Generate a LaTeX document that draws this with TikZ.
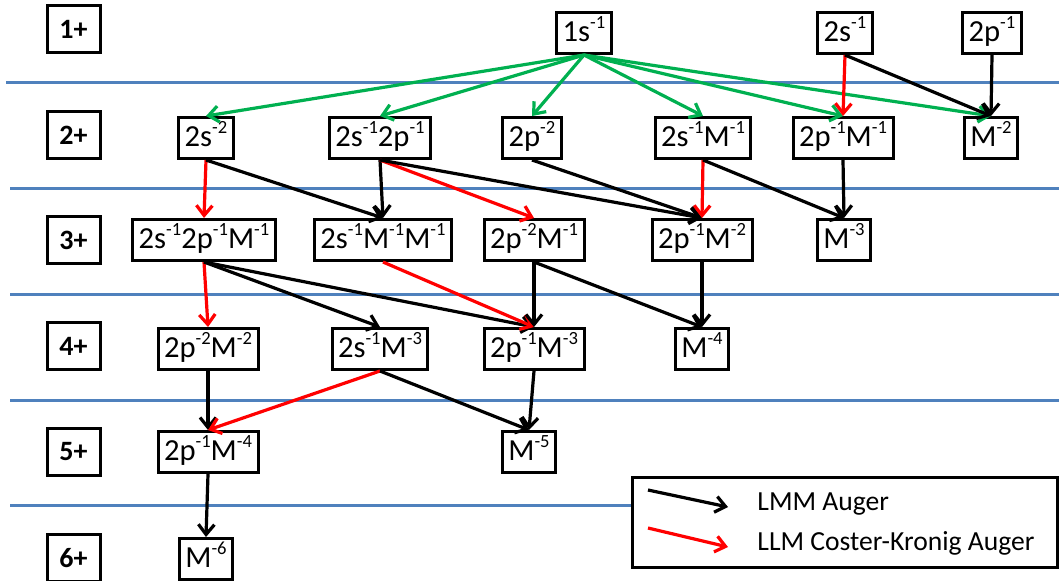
\documentclass[tikz,border=0pt]{standalone}
\usepackage{fontspec}
\setmainfont{Carlito}
\usetikzlibrary{arrows.meta}
\definecolor{kgreen}{RGB}{0,176,80}
\definecolor{shellblue}{RGB}{79,129,189}
\newcommand{\pw}[1]{\raisebox{0.42em}{\fontsize{9.3}{9}\selectfont #1}}
\tikzset{every picture/.style = {x=0.5pt, y=-0.5pt}}
\tikzset{cfg/.style = {draw, line width=1.5pt, inner xsep=3pt, inner ysep=2.5pt,
    text height=12pt, text depth=3.5pt, font=\fontsize{15.3}{18}\selectfont}}
\tikzset{lvl/.style = {draw, line width=1.5pt, minimum width=26.5pt,
    minimum height=23.5pt, font=\fontsize{14}{16}\selectfont\bfseries}}
\tikzset{auger/.style = {line width=1.6pt, -{Straight Barb[length=5pt, width=8pt]}}}
\tikzset{ck/.style = {auger, red}}
\tikzset{kll/.style = {auger, kgreen}}
\tikzset{shell/.style = {shellblue, line width=1.5pt}}

\begin{document}
\begin{tikzpicture}
  \useasboundingbox (0, 0) rectangle (1059, 580);
  % separators between charge states
  \draw[shell] (6, 82) -- (1059, 82);
  \foreach \y in {188, 294, 400}
    \draw[shell] (10, \y) -- (1059, \y);
  \draw[shell] (10, 505) -- (632, 505);

  % charge states
  \foreach \q/\y in {1/29, 2/135, 3/240, 4/346, 5/452, 6/558}
    \node(q\q)[lvl] at (73.5, \y) {\q+};

  % 1+
  \node(k1)[cfg] at (584, 33) {1s\pw{-1}};
  \node(l1)[cfg] at (845, 33) {2s\pw{-1}};
  \node(l2)[cfg] at (992, 33) {2p\pw{-1}};
  % 2+
  \node(a1)[cfg] at (206, 138) {2s\pw{-2}};
  \node(a2)[cfg] at (380, 138) {2s\pw{-1}2p\pw{-1}};
  \node(a3)[cfg] at (532, 138) {2p\pw{-2}};
  \node(a4)[cfg] at (703, 138) {2s\pw{-1}M\pw{-1}};
  \node(a5)[cfg] at (843, 138) {2p\pw{-1}M\pw{-1}};
  \node(a6)[cfg] at (991, 138) {M\pw{-2}};
  % 3+
  \node(b1)[cfg] at (204, 240) {2s\pw{-1}2p\pw{-1}M\pw{-1}};
  \node(b2)[cfg] at (383, 240) {2s\pw{-1}M\pw{-1}M\pw{-1}};
  \node(b3)[cfg] at (534, 240) {2p\pw{-2}M\pw{-1}};
  \node(b4)[cfg] at (702, 240) {2p\pw{-1}M\pw{-2}};
  \node(b5)[cfg] at (844, 240) {M\pw{-3}};
  % 4+
  \node(c1)[cfg] at (208, 349) {2p\pw{-2}M\pw{-2}};
  \node(c2)[cfg] at (380, 349) {2s\pw{-1}M\pw{-3}};
  \node(c3)[cfg] at (534, 349) {2p\pw{-1}M\pw{-3}};
  \node(c4)[cfg] at (702, 349) {M\pw{-4}};
  % 5+ and 6+
  \node(d1)[cfg] at (208, 452) {2p\pw{-1}M\pw{-4}};
  \node(d2)[cfg] at (529, 452) {M\pw{-5}};
  \node(e1)[cfg] at (206, 559) {M\pw{-6}};

  % K-shell decay
  \foreach \t in {a1, a2, a3, a4, a5, a6}
    \draw[kll] (k1.south) -- (\t.north);
  \draw[ck] (l1.south) -- (a5.north);
  \draw[auger] (l1.south) -- (a6.north);
  \draw[auger] (l2.south) -- (a6.north);

  % 2+ -> 3+
  \draw[ck] (a1.south) -- (b1.north);
  \draw[auger] (a1.south) -- (b2.north);
  \draw[auger] (a2.south) -- (b2.north);
  \draw[ck] (a2.south) -- (b3.north);
  \draw[auger] (a2.south) -- (b4.north);
  \draw[auger] (a3.south) -- (b4.north);
  \draw[ck] (a4.south) -- (b4.north);
  \draw[auger] (a4.south) -- (b5.north);
  \draw[auger] (a5.south) -- (b5.north);

  % 3+ -> 4+
  \draw[ck] (b1.south) -- (c1.north);
  \draw[auger] (b1.south) -- (c2.north);
  \draw[auger] (b1.south) -- (c3.north);
  \draw[ck] (b2.south) -- (c3.north);
  \draw[auger] (b3.south) -- (c3.north);
  \draw[auger] (b3.south) -- (c4.north);
  \draw[auger] (b4.south) -- (c4.north);

  % 4+ -> 5+ -> 6+
  \draw[auger] (c1.south) -- (d1.north);
  \draw[ck] (c2.south) -- (d1.north);
  \draw[auger] (c2.south) -- (d2.north);
  \draw[auger] (c3.south) -- (d2.north);
  \draw[auger] (d1.south) -- (e1.north);

  % legend
  \draw[line width=1.5pt] (632, 477) rectangle (1057, 567);
  \coordinate(la) at (648, 490);
  \coordinate(lb) at (728, 507);
  \coordinate(lc) at (648, 528);
  \coordinate(ld) at (728, 547);
  \draw[auger] (la) -- (lb);
  \draw[ck] (lc) -- (ld);
  \node(lg1)[anchor=base west, inner sep=0pt, font=\fontsize{13.8}{15}\selectfont] at (757, 510) {LMM Auger};
  \node(lg2)[anchor=base west, inner sep=0pt, font=\fontsize{13.8}{15}\selectfont] at (757, 550) {LLM Coster-Kronig Auger};
\end{tikzpicture}
\end{document}
